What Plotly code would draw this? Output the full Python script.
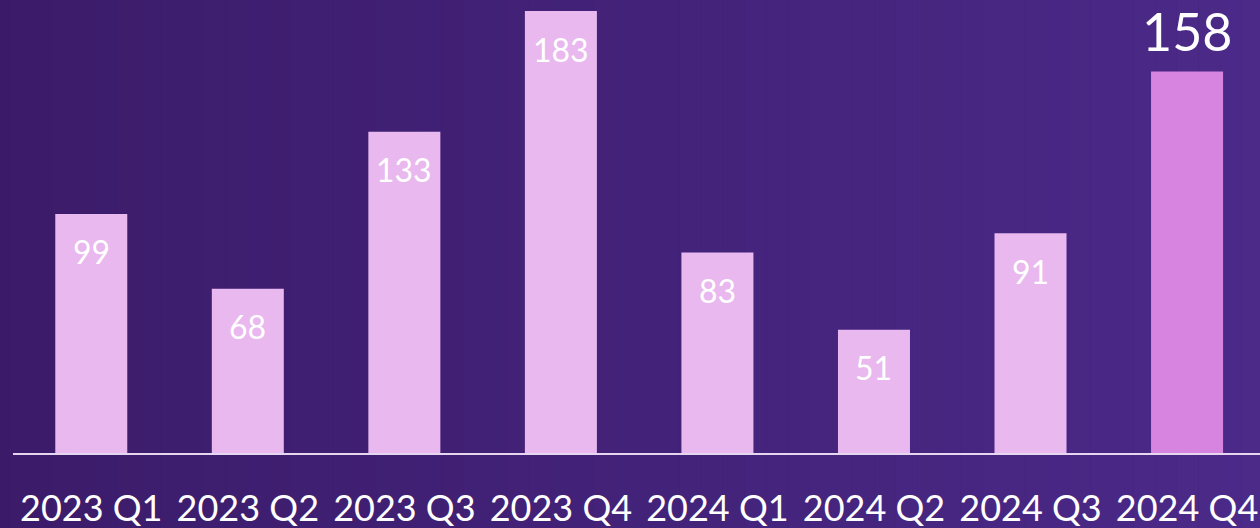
import plotly.graph_objects as go

QUARTERS = ["2023 Q1", "2023 Q2", "2023 Q3", "2023 Q4",
            "2024 Q1", "2024 Q2", "2024 Q3", "2024 Q4"]
VALUES = [99, 68, 133, 183, 83, 51, 91, 158]

BAR = "#E8B8EE"
HIGHLIGHT = "#D684E0"
FONT = "Lato"


def _mix(a, b, t):
    a = [int(a[i:i + 2], 16) for i in (1, 3, 5)]
    b = [int(b[i:i + 2], 16) for i in (1, 3, 5)]
    return "#" + "".join(f"{round(x + (y - x) * t):02x}" for x, y in zip(a, b))


colors = [HIGHLIGHT if i == len(VALUES) - 1 else BAR for i in range(len(VALUES))]

fig = go.Figure(go.Bar(x=QUARTERS, y=VALUES, marker_color=colors,
                       marker_line_width=0, width=0.46, hoverinfo="x+y"))

# background gradient, dark on the left, lighter violet on the right
n = 60
shapes = []
for i in range(n):
    shapes.append(dict(type="rect", xref="paper", yref="paper", layer="below",
                       x0=-0.02 + i * 1.04 / n, x1=-0.02 + (i + 1) * 1.04 / n,
                       y0=-0.2, y1=1.0, line_width=0,
                       fillcolor=_mix("#3B1B69", "#4B2A89", i / (n - 1))))

annotations = []
for i, (q, v) in enumerate(zip(QUARTERS, VALUES)):
    if i == len(VALUES) - 1:
        annotations.append(dict(x=q, y=v, text=str(v), showarrow=False, yanchor="bottom",
                                yshift=7, font=dict(family=FONT, size=52, color="white")))
    else:
        annotations.append(dict(x=q, y=v, text=str(v), showarrow=False, yanchor="middle",
                                yshift=-38, font=dict(family=FONT, size=32, color="white")))

fig.update_layout(
    width=1260, height=528,
    margin=dict(l=13, r=0, t=0, b=75, autoexpand=False),
    paper_bgcolor="#431F79", plot_bgcolor="rgba(0,0,0,0)",
    shapes=shapes, annotations=annotations,
    showlegend=False,
    font=dict(family=FONT, color="white"),
)
fig.update_xaxes(range=[-0.5, 7.466], showline=True, linecolor="#E6D6F0", linewidth=2,
                 showgrid=False, zeroline=False, ticks="", ticklabelstandoff=23,
                 automargin=False, tickfont=dict(family=FONT, size=36, color="white"))
fig.update_yaxes(range=[0, 187.6], visible=False, showgrid=False, zeroline=False,
                 automargin=False)

# drop the browser's default 8px body margin so the figure sits flush
fig.write_html("out.html", config={"displayModeBar": False},
               post_script="document.body.style.margin='0';"
                           "document.body.style.overflow='hidden';")
